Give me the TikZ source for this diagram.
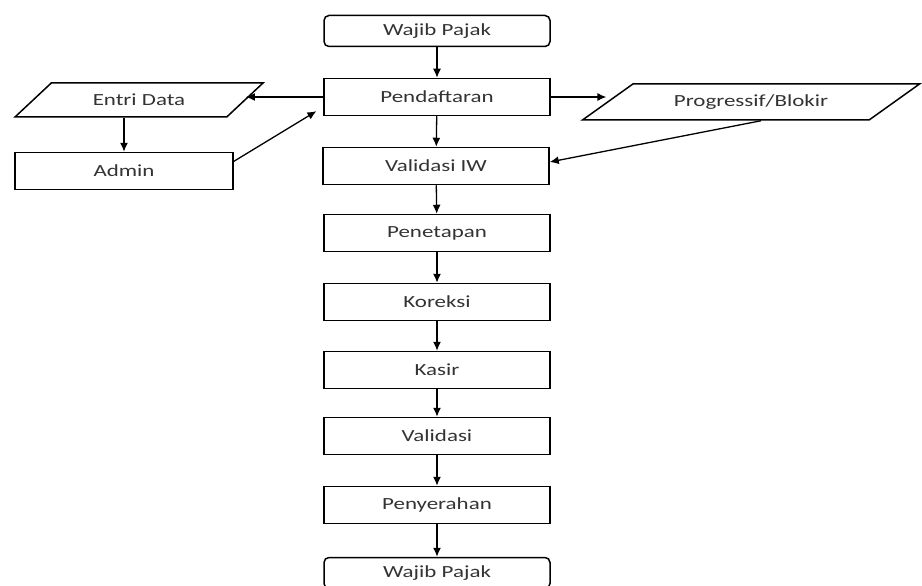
\documentclass[tikz,border=0pt]{standalone}
\usepackage{fontspec}
\setmainfont{Carlito}[FakeStretch=1.35]
\usepackage{tikz}
\usetikzlibrary{shapes.geometric}
\usetikzlibrary{arrows.meta}
\tikzset{
    proses/.style={shape=rectangle, draw=black, line width=1.5pt, minimum width=226pt, minimum height=37pt, text=black!80, font=\fontsize{17}{20}\selectfont},
    terminal/.style={proses, rounded corners=5pt, minimum height=31pt},
    masukan/.style={shape=trapezium, draw=black, line width=1.5pt, trapezium stretches body, text=black!80, font=\fontsize{17}{20}\selectfont},
    alur/.style={->, line width=1.3pt},
    >={Latex[length=9pt, width=8pt]}}

\begin{document}
\begin{tikzpicture}[x=1pt, y=-1pt]

            \useasboundingbox (0,0) rectangle (922,586);

            \node[terminal] (wp1) at (437,31) {Wajib Pajak};
            \node[proses] (daftar) at (437,97) {Pendaftaran};
            \node[proses] (viw) at (436,166) {Validasi IW};
            \node[proses] (tetap) at (437,233) {Penetapan};
            \node[proses] (koreksi) at (437,302) {Koreksi};
            \node[proses] (kasir) at (437,370) {Kasir};
            \node[proses] (valid) at (437,436) {Validasi};
            \node[proses] (serah) at (437,505) {Penyerahan};
            \node[terminal] (wp2) at (437,573) {Wajib Pajak};

            \node[masukan, trapezium left angle=27, trapezium right angle=153, minimum width=248pt, minimum height=34pt] (entri) at (139,100) {Entri Data};
            \node[proses, minimum width=218pt] (admin) at (124,171) {Admin};
            \node[masukan, trapezium left angle=23, trapezium right angle=157, minimum width=337pt, minimum height=36pt] (prog) at (751,102) {Progressif/Blokir};

            \draw[alur] (wp1) -- (daftar);
            \draw[alur] (daftar) -- (viw);
            \draw[alur] (viw) -- (tetap);
            \draw[alur] (tetap) -- (koreksi);
            \draw[alur] (koreksi) -- (kasir);
            \draw[alur] (kasir) -- (valid);
            \draw[alur] (valid) -- (serah);
            \draw[alur] (serah) -- (wp2);

            \draw[alur] (daftar.west) -- (daftar.west -| entri.east);
            \draw[alur] (entri.south -| admin.north) -- (admin.north);
            \draw[alur, shorten >=8pt] (admin.5) -- ([yshift=-10pt]daftar.west);
            \draw[alur] (daftar.east) -- (daftar.east -| prog.west);
            \draw[alur] ([xshift=10pt]prog.south) -- ([yshift=4pt]viw.east);

        \end{tikzpicture}
\end{document}
